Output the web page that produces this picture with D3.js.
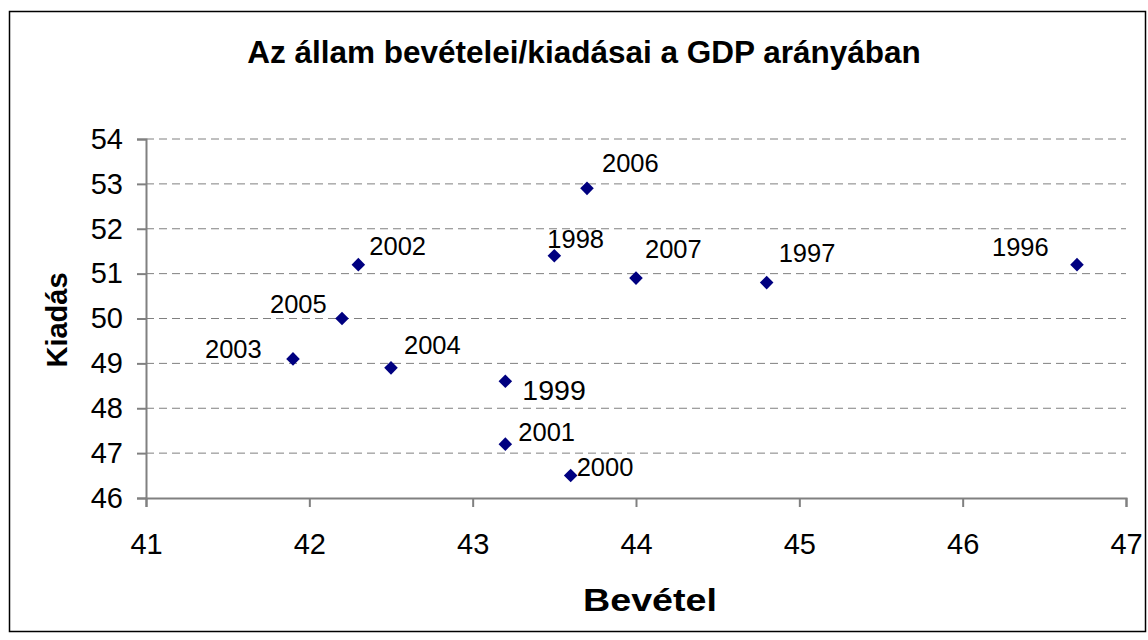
<!DOCTYPE html>
<html lang="hu">

<head>
    <meta charset="UTF-8">
    <title>Az állam bevételei/kiadásai a GDP arányában</title>

    <style>
    body {
        margin: 0;
        background: #fff;
    }

    text {
        font-family: "Liberation Sans", Arial, sans-serif;
        fill: #000;
    }

    .grid line {
        stroke: #808080;
        stroke-dasharray: 8, 5;
        stroke-width: 1px;
    }

    .axis path,
    .axis line {
        stroke: #808080;
        stroke-width: 2px;
    }
    </style>
</head>

<body>
    <svg id="main" width="1148" height="640"></svg>

    <script src="https://cdn.jsdelivr.net/npm/d3@7"></script>
    <script>
    // adatok
    var years = [1996, 1997, 1998, 1999, 2000, 2001, 2002, 2003, 2004, 2005, 2006, 2007];
    var bevetel = [46.7, 44.8, 43.5, 43.2, 43.6, 43.2, 42.3, 41.9, 42.5, 42.2, 43.7, 44.0];
    var kiadas = [51.2, 50.8, 51.4, 48.6, 46.5, 47.2, 51.2, 49.1, 48.9, 50.0, 52.9, 50.9];
    var xTicks = [41, 42, 43, 44, 45, 46, 47];
    var yTicks = [46, 47, 48, 49, 50, 51, 52, 53, 54];

    var svg = d3.select("#main");

    var pLeft = 146,
        pRight = 1126,
        pTop = 139,
        pBottom = 498;

    var x = d3.scaleLinear().domain([41, 47]).range([pLeft, pRight]);
    var y = d3.scaleLinear().domain([46, 54]).range([pBottom, pTop]);

    // keret
    svg.append("rect")
        .attr("x", 9.5).attr("y", 11.5)
        .attr("width", 1136).attr("height", 620)
        .attr("fill", "#fff")
        .attr("stroke", "#000")
        .attr("stroke-width", 1.5);

    svg.append("text")
        .attr("x", 584).attr("y", 63)
        .attr("text-anchor", "middle")
        .style("font-weight", "bold")
        .style("font-size", "31.5px")
        .text("Az állam bevételei/kiadásai a GDP arányában");

    // rácsvonalak
    svg.append("g").attr("class", "grid")
        .selectAll("line")
        .data(yTicks.slice(1))
        .join("line")
        .attr("x1", pLeft).attr("x2", pRight)
        .attr("y1", function(d) { return y(d); })
        .attr("y2", function(d) { return y(d); });

    var xAxis = svg.append("g").attr("class", "axis")
        .attr("transform", "translate(0," + pBottom + ")")
        .call(d3.axisBottom(x).tickValues(xTicks).tickFormat(d3.format("d"))
            .tickSize(9).tickSizeOuter(9).tickPadding(26));
    xAxis.selectAll("text").style("font-size", "29px");

    var yAxis = svg.append("g").attr("class", "axis")
        .attr("transform", "translate(" + pLeft + ",0)")
        .call(d3.axisLeft(y).tickValues(yTicks).tickFormat(d3.format("d"))
            .tickSize(9).tickSizeOuter(9).tickPadding(14));
    yAxis.selectAll("text").style("font-size", "29px");
    yAxis.selectAll(".tick line").attr("stroke-width", 1.5);
    xAxis.selectAll(".tick line").attr("stroke-width", 1.5);

    svg.append("text")
        .attr("x", 650).attr("y", 611)
        .attr("text-anchor", "middle")
        .attr("textLength", 134)
        .attr("lengthAdjust", "spacingAndGlyphs")
        .style("font-weight", "bold")
        .style("font-size", "32px")
        .text("Bevétel");

    svg.append("text")
        .attr("transform", "translate(67,320) rotate(-90)")
        .attr("text-anchor", "middle")
        .style("font-weight", "bold")
        .style("font-size", "29px")
        .text("Kiadás");

    var points = years.map(function(yr, i) {
        return { year: yr, x: bevetel[i], y: kiadas[i] };
    });

    // pontok
    var diamond = d3.symbol().type(d3.symbolSquare).size(92);
    svg.append("g")
        .selectAll("path")
        .data(points)
        .join("path")
        .attr("d", diamond)
        .attr("fill", "#000080")
        .attr("transform", function(d) {
            return "translate(" + x(d.x) + "," + y(d.y) + ") rotate(45)";
        });

    // címkék eltolása (px)
    var labelPos = {
        1996: [-85, -9],
        1997: [12, -21],
        1998: [-7, -8],
        1999: [17, 19],
        2000: [6, 0],
        2001: [13, -3],
        2002: [11, -10],
        2003: [-88, -1],
        2004: [13, -14],
        2005: [-72, -6],
        2006: [15, -16],
        2007: [9, -20]
    };

    svg.append("g")
        .selectAll("text")
        .data(points)
        .join("text")
        .attr("x", function(d) { return x(d.x) + labelPos[d.year][0]; })
        .attr("y", function(d) { return y(d.y) + labelPos[d.year][1]; })
        .style("font-size", function(d) { return d.year === 1999 ? "28.5px" : "25.5px"; })
        .text(function(d) { return d.year; });
    </script>

</body>

</html>
